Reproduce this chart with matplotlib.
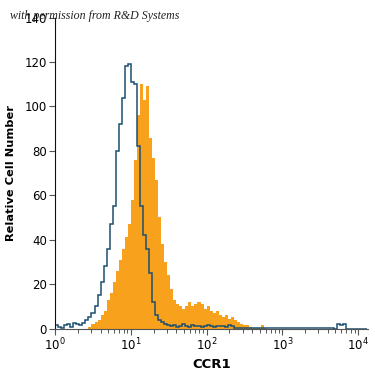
"""Flow cytometry histogram - CCR1 staining vs isotype control."""
import numpy as np
import matplotlib
matplotlib.use('Agg')
import matplotlib.pyplot as plt
from matplotlib.ticker import LogLocator, NullFormatter, FixedLocator

# log10 bin width and channel counts (bins start at 10^0)
bin_width = 0.04

isotype_counts = [
    1.6, 0.5, 0.3, 1.5, 2, 0.5, 2.5, 2, 1.5, 2.5,
    3.8, 5, 7, 10, 15, 21, 28, 36, 47, 55,
    80, 92, 104, 118, 119, 111, 110, 82, 55, 42,
    36, 25, 12, 6, 4, 3, 2, 1.6, 1, 1.5,
    0.8, 1.2, 2, 1, 0.8, 1.5, 1, 1.2, 0.8, 1,
    1.5, 1, 0.8, 1, 1.2, 1, 0.8, 1.5, 1, 0.4,
    0.4, 0.4, 0.4, 0.4, 0.4, 0.4, 0.4, 0.4, 0.4, 0.4,
    0.4, 0.4, 0.4, 0.4, 0.4, 0.4, 0.4, 0.4, 0.4, 0.4,
    0.4, 0.4, 0.4, 0.4, 0.4, 0.4, 0.4, 0.4, 0.4, 0.4,
    0.4, 0.4, 0, 2, 1.5, 2, 0, 0, 0, 0,
    0, 0, 0,
]

ccr1_counts = [
    0, 0, 0, 0, 0, 0, 0, 0, 0, 0,
    0, 0.8, 2, 3, 4, 6, 8, 13, 16, 21,
    26, 31, 36, 41, 47, 58, 76, 96, 110, 103,
    109, 86, 77, 67, 50, 38, 30, 24, 18, 13,
    11, 10, 9, 10, 12, 10, 11, 12, 11, 9,
    10, 8, 7, 8, 6, 5, 6, 4.5, 5, 4,
    3, 2, 1.5, 1.6, 0.5, 0.3, 0.2, 0.3, 1.6, 0.3,
    0, 0, 0, 0, 0, 0, 0, 0, 0, 0,
    0, 0, 0, 0, 0, 0, 0, 0, 0, 0,
    0, 0, 0, 0, 0, 0, 0, 0, 0, 0,
    0, 0, 0,
]

y_ticks = [0, 20, 40, 60, 80, 100, 120, 140]
x_ticks = [1, 10, 100, 1000, 10000]
x_ticklabels = ['10$^0$', '10$^1$', '10$^2$', '10$^3$', '10$^4$']

edges = 10 ** (np.arange(len(ccr1_counts) + 1) * bin_width)

plt.rcParams['font.family'] = ['DejaVu Sans']

fig = plt.figure(figsize=(3.75, 3.75), dpi=100)
ax = fig.add_axes([0.147, 0.124, 0.834, 0.829])

ax.stairs(ccr1_counts, edges, fill=True, color='#F7A11C', linewidth=0)
ax.stairs(isotype_counts, edges, color='#1C4F70', linewidth=1.1)

ax.set_xscale('log')
ax.set_xlim(1, 10 ** 4.13)
ax.set_ylim(0, 140)

ax.xaxis.set_major_locator(FixedLocator(x_ticks))
ax.set_xticklabels(x_ticklabels)
ax.xaxis.set_minor_locator(LogLocator(base=10, subs=np.arange(2, 10)))
ax.xaxis.set_minor_formatter(NullFormatter())
ax.set_yticks(y_ticks)

for s in ['top', 'right']:
    ax.spines[s].set_visible(False)
ax.spines['left'].set_color('#111111')
ax.spines['bottom'].set_color('#555555')
ax.tick_params(axis='both', which='major', labelsize=8.5, length=4,
               width=0.8, color='#555555', pad=2)
ax.tick_params(axis='x', which='minor', length=3, width=0.7, color='#555555')

ax.set_xlabel('CCR1', fontsize=9.5, fontweight='bold', labelpad=3)
ax.set_ylabel('Relative Cell Number', fontsize=8.2, fontweight='bold', labelpad=6)

fig.text(0.027, 0.957, 'with permission from R&D Systems', fontsize=8.6,
         family='Liberation Serif', style='italic', color='#222222',
         va='center', ha='left')

fig.savefig('out.png', dpi=100)
plt.close(fig)
